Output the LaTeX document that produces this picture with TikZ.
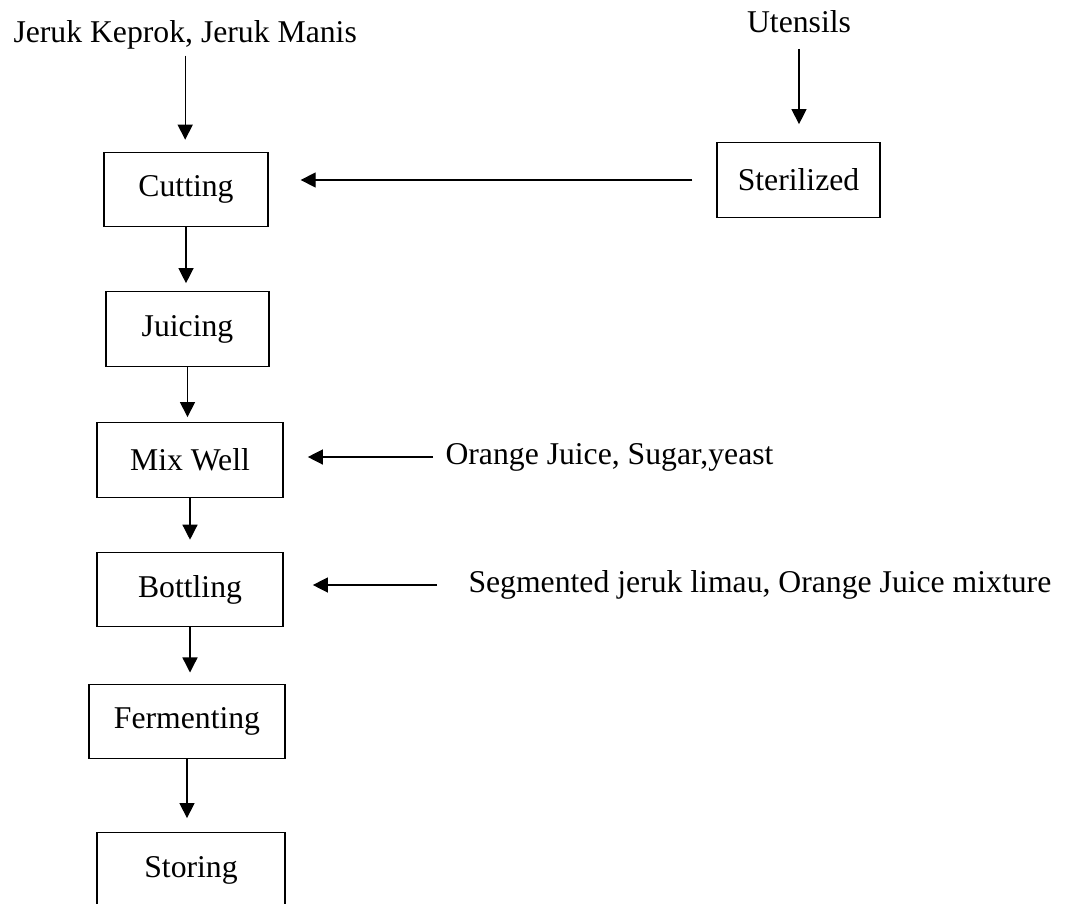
\documentclass[tikz,border=0pt]{standalone}
\usepackage{fontspec}
\setmainfont{Liberation Serif}
\usetikzlibrary{arrows.meta}

\begin{document}
\begin{tikzpicture}[x=0.01331cm,y=-0.01331cm,
  >={Triangle[width=5.7pt,length=5.7pt]},
  every node/.style={font=\fontsize{12pt}{14pt}\selectfont},
  box/.style={draw,line width=0.5pt,minimum height=28.2pt,inner sep=0pt},
  lbl/.style={inner sep=0pt},
  flow/.style={->,line width=0.5pt}]

  \useasboundingbox (0,0) rectangle (1078,903);

  % Bahan baku dan alat
  \node[lbl,anchor=base west] (jeruk) at (13,43) {Jeruk Keprok, Jeruk Manis};
  \node[lbl,anchor=base] (utensil) at (799,33) {Utensils};

  % Tahapan proses
  \node[box,minimum width=62.1pt] (cut) at (186,189.5) {Cutting};
  \node[box,minimum width=61.7pt] (juice) at (187.5,329) {Juicing};
  \node[box,minimum width=70.5pt] (mix) at (190,460) {Mix Well};
  \node[box,minimum width=70.5pt] (bottle) at (190,589.5) {Bottling};
  \node[box,minimum width=74.2pt] (ferment) at (187,721.5) {Fermenting};
  \node[box,minimum width=71.2pt] (store) at (191,870) {Storing};
  \node[box,minimum width=61.7pt] (steril) at (798.5,180) {Sterilized};

  % Bahan tambahan
  \node[lbl,anchor=west] (orange) at (445,457) {Orange Juice, Sugar,yeast};
  \node[lbl,anchor=west] (segment) at (468,585)
    {Segmented jeruk limau, Orange Juice mixture};

  % Panah masuk
  \draw[flow,shorten <=2pt,shorten >=4.5pt] (jeruk.south) -- (jeruk.south |- cut.north);
  \draw[flow,shorten <=5.7pt,shorten >=6.8pt] (utensil.south) -- (utensil.south |- steril.north);

  % Alur utama
  \draw[flow,shorten >=3pt] (cut.south) -- (cut.south |- juice.north);
  \draw[flow,shorten >=1.9pt] (juice.south) -- (juice.south |- mix.north);
  \draw[flow,shorten >=4.5pt] (mix.south) -- (mix.south |- bottle.north);
  \draw[flow,shorten >=4.2pt] (bottle.south) -- (bottle.south |- ferment.north);
  \draw[flow,shorten >=5.3pt] (ferment.south) -- (ferment.south |- store.north);

  % Panah samping
  \draw[flow,shorten <=9.1pt,shorten >=12.1pt] (steril.west) -- (steril.west -| cut.east);
  \draw[flow,shorten <=4.5pt,shorten >=9.1pt] (orange.west) -- (orange.west -| mix.east);
  \draw[flow,shorten <=11.7pt,shorten >=11pt] (segment.west) -- (segment.west -| bottle.east);

\end{tikzpicture}
\end{document}
